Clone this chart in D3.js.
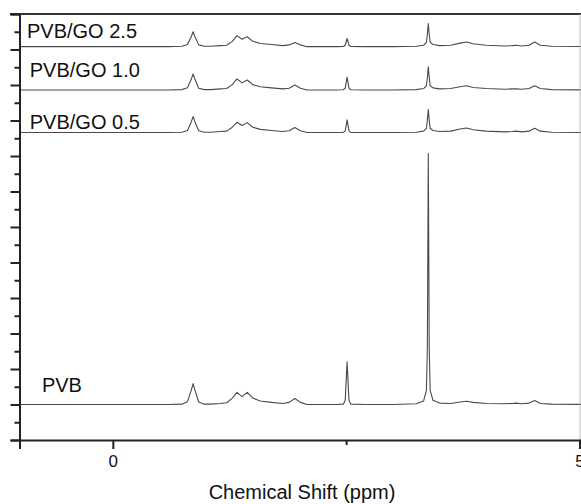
<!DOCTYPE html>
<html>
<head>
<meta charset="utf-8">
<script src="https://cdn.jsdelivr.net/npm/d3@7"></script>
<style>
  html, body { margin: 0; padding: 0; background: #fff; }
  svg { display: block; font-family: "Liberation Sans", Arial, sans-serif; }
</style>
</head>
<body>
<svg id="chart" width="581" height="504"></svg>
<script>
// ---- data ----
const seriesNames = ["PVB", "PVB/GO 0.5", "PVB/GO 1.0", "PVB/GO 2.5"];
const seriesOffsets = [1.0, 8.66, 9.86, 11.08];
const ppm = [-1.0, 0.60, 0.74, 0.80, 0.84, 0.86, 0.88, 0.92, 0.98, 1.05, 1.15, 1.22, 1.28, 1.33, 1.385, 1.44, 1.50, 1.58, 1.70, 1.82, 1.89, 1.95, 2.01, 2.08, 2.40, 2.47, 2.49, 2.51, 2.53, 2.55, 2.70, 3.00, 3.25, 3.33, 3.36, 3.37, 3.38, 3.39, 3.40, 3.43, 3.50, 3.62, 3.72, 3.79, 3.86, 4.00, 4.20, 4.28, 4.32, 4.38, 4.46, 4.52, 4.58, 4.70, 5.20];
const intensityPVB  = [0, 0, 0.01, 0.08, 0.40, 0.59, 0.40, 0.07, 0.01, 0.01, 0.03, 0.05, 0.18, 0.34, 0.22, 0.34, 0.18, 0.10, 0.06, 0.03, 0.06, 0.17, 0.06, 0.0, 0.0, 0.01, 0.12, 1.20, 0.12, 0.01, 0.0, 0.0, 0.02, 0.10, 0.40, 1.60, 7.07, 1.60, 0.40, 0.12, 0.04, 0.03, 0.07, 0.09, 0.06, 0.03, 0.02, 0.03, 0.04, 0.02, 0.04, 0.11, 0.03, 0.01, 0];
const intensityGO05 = [0, 0, 0.01, 0.06, 0.30, 0.45, 0.30, 0.05, 0.01, 0.01, 0.03, 0.04, 0.15, 0.29, 0.20, 0.28, 0.15, 0.09, 0.06, 0.03, 0.05, 0.14, 0.05, 0.0, 0.0, 0.005, 0.05, 0.36, 0.05, 0.005, 0.0, 0.0, 0.01, 0.04, 0.12, 0.35, 0.65, 0.35, 0.12, 0.06, 0.03, 0.04, 0.10, 0.13, 0.08, 0.04, 0.02, 0.03, 0.04, 0.02, 0.04, 0.12, 0.04, 0.01, 0];
const intensityGO10 = [0, 0, 0.01, 0.06, 0.30, 0.45, 0.30, 0.05, 0.01, 0.01, 0.03, 0.04, 0.15, 0.31, 0.20, 0.28, 0.15, 0.09, 0.06, 0.03, 0.05, 0.14, 0.05, 0.0, 0.0, 0.005, 0.05, 0.36, 0.05, 0.005, 0.0, 0.0, 0.01, 0.04, 0.12, 0.35, 0.65, 0.35, 0.12, 0.06, 0.03, 0.04, 0.09, 0.12, 0.07, 0.04, 0.02, 0.03, 0.03, 0.02, 0.04, 0.12, 0.04, 0.01, 0];
const intensityGO25 = [0, 0, 0.01, 0.06, 0.28, 0.42, 0.28, 0.05, 0.01, 0.01, 0.03, 0.04, 0.15, 0.31, 0.21, 0.28, 0.15, 0.09, 0.06, 0.03, 0.05, 0.12, 0.05, 0.0, 0.0, 0.005, 0.04, 0.23, 0.04, 0.005, 0.0, 0.0, 0.01, 0.04, 0.12, 0.35, 0.65, 0.35, 0.12, 0.06, 0.03, 0.04, 0.10, 0.13, 0.08, 0.04, 0.02, 0.03, 0.04, 0.02, 0.04, 0.13, 0.04, 0.01, 0];
const seriesIntensities = [intensityPVB, intensityGO05, intensityGO10, intensityGO25];
const xTickValues = [0, 5];
const xMinorTicks = [2.5];
const yMajorTicks = [0,1,2,3,4,5,6,7,8,9,10,11,12];
const yMinorTicks = [0.5,1.5,2.5,3.5,4.5,5.5,6.5,7.5,8.5,9.5,10.5,11.5];
// label anchor positions in data units (ppm, intensity)
const labelPpm = [-0.76, -0.89, -0.89, -0.92];
const labelY = [1.35, 8.76, 10.23, 11.32];

// ---- layout ----
const svg = d3.select("#chart");
const x = d3.scaleLinear().domain([-1, 5]).range([19.5, 579.5]);
const y = d3.scaleLinear().domain([0, 12]).range([440, 14]);

// spectra
const line = d3.line().x(d => x(d[0])).y(d => y(d[1]));
seriesIntensities.forEach((vals, i) => {
  const pts = ppm.map((p, k) => [p, seriesOffsets[i] + vals[k]]);
  svg.append("path").attr("d", line(pts))
    .attr("fill", "none").attr("stroke", "#4a4a4a").attr("stroke-width", 1.1)
    .attr("stroke-linejoin", "round");
});

// labels
seriesNames.forEach((n, i) => {
  svg.append("text").attr("x", x(labelPpm[i])).attr("y", y(labelY[i]))
    .attr("font-size", 20).attr("fill", "#111").text(n);
});

// frame: top and right
svg.append("line").attr("x1", 10).attr("x2", 581).attr("y1", y(12)).attr("y2", y(12))
  .attr("stroke", "#333").attr("stroke-width", 2);
svg.append("line").attr("x1", 580).attr("x2", 580).attr("y1", 14).attr("y2", 440)
  .attr("stroke", "#bbb").attr("stroke-width", 1);

// left axis
const yAxisMajor = d3.axisLeft(y).tickValues(yMajorTicks).tickSize(9).tickFormat("");
const gy = svg.append("g").attr("transform", `translate(${x(-1)},0)`).call(yAxisMajor);
gy.select(".domain").attr("stroke", "#222").attr("stroke-width", 2);
gy.selectAll(".tick line").attr("stroke", "#222").attr("stroke-width", 2);
const yAxisMinor = d3.axisLeft(y).tickValues(yMinorTicks).tickSize(5).tickFormat("");
const gy2 = svg.append("g").attr("transform", `translate(${x(-1)},0)`).call(yAxisMinor);
gy2.select(".domain").remove();
gy2.selectAll(".tick line").attr("stroke", "#222").attr("stroke-width", 2);

// bottom axis
const xAxis = d3.axisBottom(x).tickValues(xTickValues).tickSize(9).tickPadding(6).tickFormat(d3.format("d"));
const gx = svg.append("g").attr("transform", `translate(0,${y(0)})`).call(xAxis);
gx.select(".domain").attr("stroke", "#222").attr("stroke-width", 2);
gx.selectAll(".tick line").attr("stroke", "#222").attr("stroke-width", 2);
gx.selectAll(".tick text").attr("font-size", 17).attr("fill", "#111")
  .attr("font-family", "Liberation Sans, Arial, sans-serif");
const xAxisMinor = d3.axisBottom(x).tickValues(xMinorTicks).tickSize(5).tickFormat("");
const gx2 = svg.append("g").attr("transform", `translate(0,${y(0)})`).call(xAxisMinor);
gx2.select(".domain").remove();
gx2.selectAll(".tick line").attr("stroke", "#222").attr("stroke-width", 2);

// axis title
svg.append("text").attr("x", 302).attr("y", 499).attr("text-anchor", "middle")
  .attr("font-size", 20).attr("fill", "#111").text("Chemical Shift (ppm)");
</script>
</body>
</html>
